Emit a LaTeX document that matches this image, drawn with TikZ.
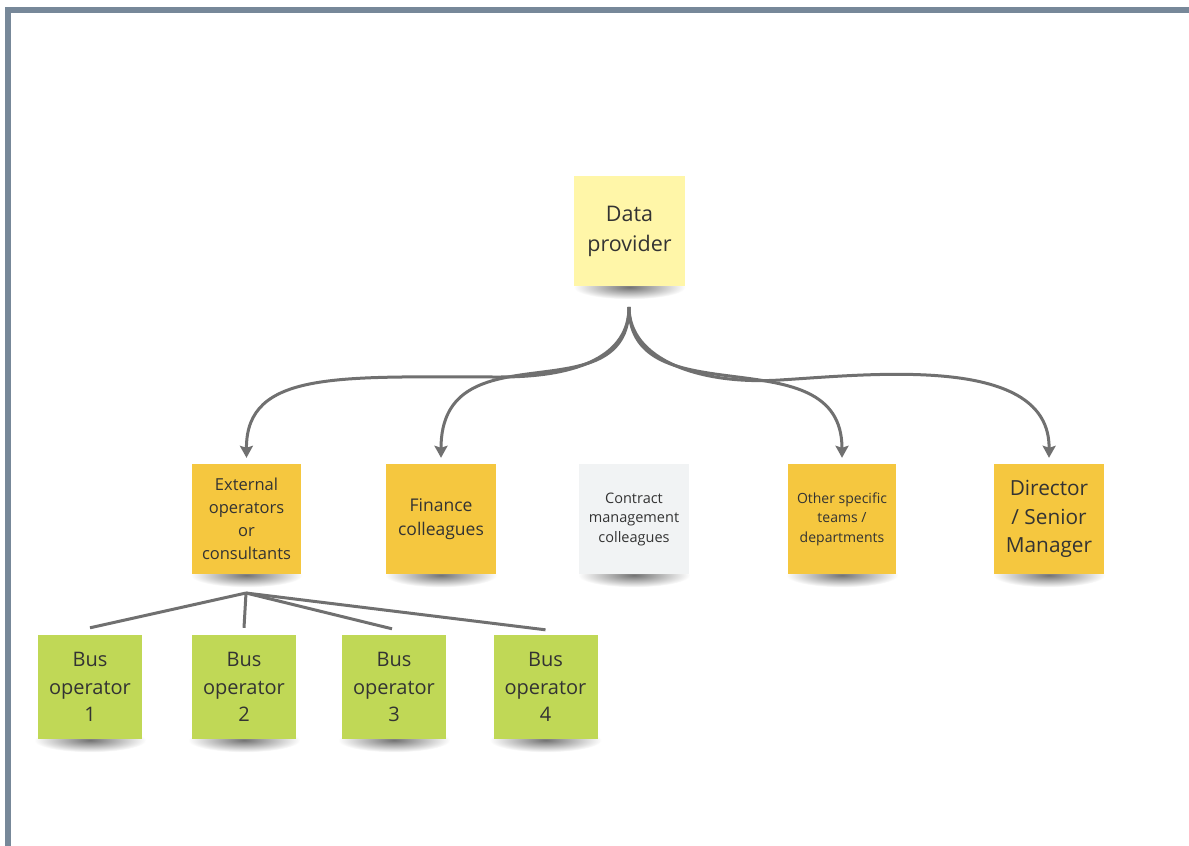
\documentclass[tikz,border=0pt]{standalone}
\usepackage{fontspec}
\setmainfont{Open Sans}
\usetikzlibrary{arrows.meta,backgrounds}
\definecolor{frame}{HTML}{778899}
\definecolor{paleyellow}{HTML}{FFF6A8}
\definecolor{gold}{HTML}{F5C73F}
\definecolor{paper}{HTML}{F1F3F4}
\definecolor{lime}{HTML}{C0D856}
\definecolor{ink}{HTML}{333333}
\definecolor{wire}{HTML}{707070}
\tikzset{
  note/.style={draw=none, minimum width=110pt, minimum height=110pt, inner sep=2pt,
    align=center, text=ink},
  busnote/.style={note, fill=lime, minimum width=104pt, minimum height=104pt, font=\fontsize{20}{27.5}\selectfont},
  link/.style={draw=wire, line width=3pt, -{Stealth[length=12pt,width=13pt,inset=2pt]}},
  tie/.style={draw=wire, line width=3pt},
  notshadow/.style={inner color=black!55, outer color=white}
}
\begin{document}
\begin{tikzpicture}[x=1pt,y=-1pt]
\useasboundingbox (0,0) rectangle (1189,846);

\node[note, fill=paleyellow, minimum width=111pt, font=\fontsize{21.5}{30}\selectfont] (dp) at (629.5,231) {Data\\provider};

\node[note, fill=gold, minimum width=109pt, font=\fontsize{16.5}{23}\selectfont] (ext) at (246.5,519) {External\\operators\\or\\consultants};
\node[note, fill=gold, font=\fontsize{17.5}{24}\selectfont] (fin) at (441,519) {Finance\\colleagues};
\node[note, fill=paper, font=\fontsize{14.5}{19.5}\selectfont] (con) at (634,519) {Contract\\management\\colleagues};
\node[note, fill=gold, minimum width=108pt, font=\fontsize{14}{19.5}\selectfont] (oth) at (842,519) {Other specific\\teams /\\departments};
\node[note, fill=gold, font=\fontsize{20.8}{28.5}\selectfont] (dir) at (1049,519) {Director\\/ Senior\\Manager};

\node[busnote] (b1) at (90,687) {Bus\\operator\\1};
\node[busnote] (b2) at (244,687) {Bus\\operator\\2};
\node[busnote] (b3) at (394,687) {Bus\\operator\\3};
\node[busnote] (b4) at (545.5,687) {Bus\\operator\\4};

\begin{scope}[on background layer]
\fill[white] (0,0) rectangle (1189,846);
\fill[frame] (5,7) rectangle (1189,13);
\fill[frame] (5,7) rectangle (11,846);
\foreach \n in {dp,ext,fin,con,oth,dir,b1,b2,b3,b4}
  \shade[notshadow] ([yshift=-1pt]\n.south) ellipse [x radius=56pt, y radius=12pt];
\end{scope}

\coordinate (hub) at (629,307);
\coordinate (fan) at (246,593);

\draw[link] (hub) .. controls +(0,48) and (580,377) .. (500,377)
  .. controls (340,377) and (246,370) .. ([yshift=6pt]ext.north);
\draw[link] (hub) .. controls +(0,111) and +(0,-133) .. ([yshift=6pt]fin.north);
\draw[link] (hub) .. controls +(0,113) and +(0,-125) .. ([yshift=6pt]oth.north);
\draw[link] (hub) .. controls +(0,53) and (700,385) .. (780,380)
  .. controls (876,374) and (1050,355) .. ([yshift=6pt]dir.north);

\draw[tie] (fan) -- ([yshift=7pt]b1.north);
\draw[tie] (fan) -- ([yshift=7pt]b2.north);
\draw[tie] (fan) -- ([yshift=6pt,xshift=-2pt]b3.north);
\draw[tie] (fan) -- ([yshift=5pt]b4.north);
\end{tikzpicture}
\end{document}
